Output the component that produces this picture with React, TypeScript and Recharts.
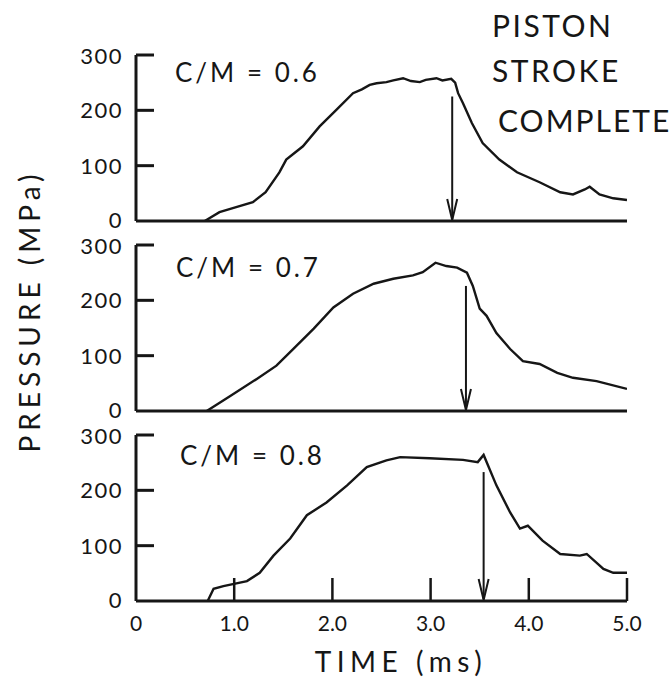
import { LineChart, Line, XAxis, YAxis, ReferenceLine } from "recharts";

// time axis (ms) and pressure axis (MPa)
const timeTicks = [0, 1, 2, 3, 4, 5];
const pressureTicks = [0, 100, 200, 300];

// C/M = 0.6
const time06 = [0.7, 0.85, 1.02, 1.19, 1.32, 1.46, 1.53, 1.7, 1.87, 2.04, 2.21, 2.3, 2.38, 2.45, 2.55, 2.62, 2.72, 2.8, 2.89, 2.95, 3.06, 3.12, 3.21, 3.25, 3.28, 3.33, 3.42, 3.53, 3.7, 3.88, 4.11, 4.32, 4.45, 4.57, 4.62, 4.72, 4.86, 5.0];
const pressure06 = [0, 16, 25, 34, 52, 88, 111, 135, 171, 201, 231, 238, 246, 249, 251, 254, 258, 253, 251, 255, 258, 254, 257, 250, 231, 213, 177, 141, 111, 88, 70, 52, 48, 57, 62, 48, 41, 38];

// C/M = 0.7
const time07 = [0.72, 0.96, 1.23, 1.43, 1.6, 1.81, 2.01, 2.21, 2.42, 2.62, 2.82, 2.92, 3.05, 3.16, 3.27, 3.37, 3.43, 3.5, 3.57, 3.67, 3.81, 3.94, 4.11, 4.29, 4.45, 4.69, 5.0];
const pressure07 = [0, 27, 58, 82, 112, 149, 187, 212, 230, 239, 245, 251, 268, 262, 259, 250, 226, 185, 172, 141, 112, 90, 85, 69, 60, 54, 40];

// C/M = 0.8
const time08 = [0.73, 0.79, 0.89, 1.13, 1.26, 1.4, 1.57, 1.74, 1.94, 2.15, 2.35, 2.55, 2.69, 2.99, 3.33, 3.48, 3.54, 3.67, 3.81, 3.91, 3.99, 4.14, 4.32, 4.52, 4.59, 4.76, 4.86, 5.0];
const pressure08 = [0, 22, 27, 36, 51, 82, 113, 155, 178, 209, 242, 254, 260, 258, 255, 251, 264, 209, 160, 131, 136, 109, 85, 82, 85, 58, 51, 51];

// piston stroke complete (arrow)
const strokeTimes = [3.22, 3.36, 3.54];
const arrowTops = [225, 226, 233];

const panelLabels = ["C/M = 0.6", "C/M = 0.7", "C/M = 0.8"];

const INK = "#161616";
const FONT = "Lato, 'Open Sans', sans-serif";

const panels = [
  { time: time06, pressure: pressure06, top: 55, labelX: 175, labelY: 82 },
  { time: time07, pressure: pressure07, top: 245, labelX: 176, labelY: 277 },
  { time: time08, pressure: pressure08, top: 435, labelX: 180, labelY: 465 },
];

const PLOT_H = 166;
const MARGIN_TOP = 20;
const X_AXIS_H = 50;

const PressureTick = (props: any) => {
  const { x, y, payload } = props;
  // nudge the 0 / 300 labels apart, the panels sit very close
  const dy = payload.value === 0 ? "0.3em" : payload.value === 300 ? "0.4em" : "0.36em";
  return (
    <g>
      {payload.value > 0 && (
        <line x1={x} x2={x + 18} y1={y} y2={y} stroke={INK} strokeWidth={3} />
      )}
      <text x={x - 13} y={y} dy={dy} textAnchor="end" fontSize={22} letterSpacing={1.5} fontFamily={FONT} fill={INK}>
        {payload.value}
      </text>
    </g>
  );
};

const TimeTick = (props: any) => {
  const { x, y, payload } = props;
  return (
    <g>
      {payload.value > 0 && (
        <line x1={x} x2={x} y1={y} y2={y - 23} stroke={INK} strokeWidth={2.5} />
      )}
      <text x={x} y={y + 22} dy="0.36em" textAnchor="middle" fontSize={21} fontFamily={FONT} fill={INK}>
        {payload.value === 0 ? "0" : payload.value.toFixed(1)}
      </text>
    </g>
  );
};

const Arrow = (props: any) => {
  const { x1, y1, x2, y2 } = props;
  return (
    <g>
      <line x1={x1} y1={y1} x2={x2} y2={y2 - 2} stroke={INK} strokeWidth={2} />
      <path d={`M${x2 - 5},${y2 - 22} L${x2},${y2 - 1} L${x2 + 5},${y2 - 22}`} fill="none" stroke={INK} strokeWidth={2} />
    </g>
  );
};

function Panel({ index }: { index: number }) {
  const p = panels[index];
  const rows = p.time.map((t, i) => ({ t, p: p.pressure[i] }));
  const isBottom = index === panels.length - 1;
  return (
    <div style={{ position: "absolute", left: 0, top: p.top - MARGIN_TOP }}>
      <LineChart
        width={672}
        height={MARGIN_TOP + PLOT_H + X_AXIS_H}
        data={rows}
        margin={{ top: MARGIN_TOP, right: 45, bottom: 0, left: 76 }}
      >
        <XAxis
          type="number"
          dataKey="t"
          domain={[0, 5]}
          ticks={timeTicks}
          height={X_AXIS_H}
          axisLine={{ stroke: INK, strokeWidth: 3 }}
          tickLine={false}
          tickSize={0}
          tickMargin={0}
          tick={isBottom ? <TimeTick /> : false}
          allowDataOverflow
        />
        <YAxis
          type="number"
          domain={[0, 300]}
          ticks={pressureTicks}
          width={60}
          axisLine={{ stroke: INK, strokeWidth: 3 }}
          tickLine={false}
          tickSize={0}
          tickMargin={0}
          tick={<PressureTick />}
          allowDataOverflow
        />
        <Line
          type="linear"
          dataKey="p"
          stroke={INK}
          strokeWidth={2.4}
          dot={false}
          isAnimationActive={false}
        />
        <ReferenceLine
          segment={[
            { x: strokeTimes[index], y: arrowTops[index] },
            { x: strokeTimes[index], y: 0 },
          ]}
          stroke={INK}
          shape={Arrow}
        />
      </LineChart>
    </div>
  );
}

export default function App() {
  return (
    <div
      style={{
        position: "absolute",
        left: 0,
        top: 0,
        width: 672,
        height: 694,
        background: "#ffffff",
        fontFamily: FONT,
      }}
    >
      {panels.map((_, i) => (
        <Panel key={i} index={i} />
      ))}
      <svg width={672} height={694} style={{ position: "absolute", left: 0, top: 0, pointerEvents: "none" }}>
        {panels.map((p, i) => (
          <text key={i} x={p.labelX} y={p.labelY} fontSize={26} letterSpacing={3} fontFamily={FONT} fill={INK}>
            {panelLabels[i]}
          </text>
        ))}
        <text x={492} y={37} fontSize={30} letterSpacing={2.5} fontFamily={FONT} fill={INK}>PISTON</text>
        <text x={492} y={82} fontSize={30} letterSpacing={2.5} fontFamily={FONT} fill={INK}>STROKE</text>
        <text x={498} y={132} fontSize={30} letterSpacing={2} fontFamily={FONT} fill={INK}>COMPLETE</text>
        <text x={401} y={672} textAnchor="middle" fontSize={28} letterSpacing={5.5} fontFamily={FONT} fill={INK}>
          TIME (ms)
        </text>
        <text
          transform="translate(40, 311) rotate(-90)"
          textAnchor="middle"
          fontSize={28}
          letterSpacing={5}
          fontFamily={FONT}
          fill={INK}
        >
          PRESSURE (MPa)
        </text>
      </svg>
    </div>
  );
}
